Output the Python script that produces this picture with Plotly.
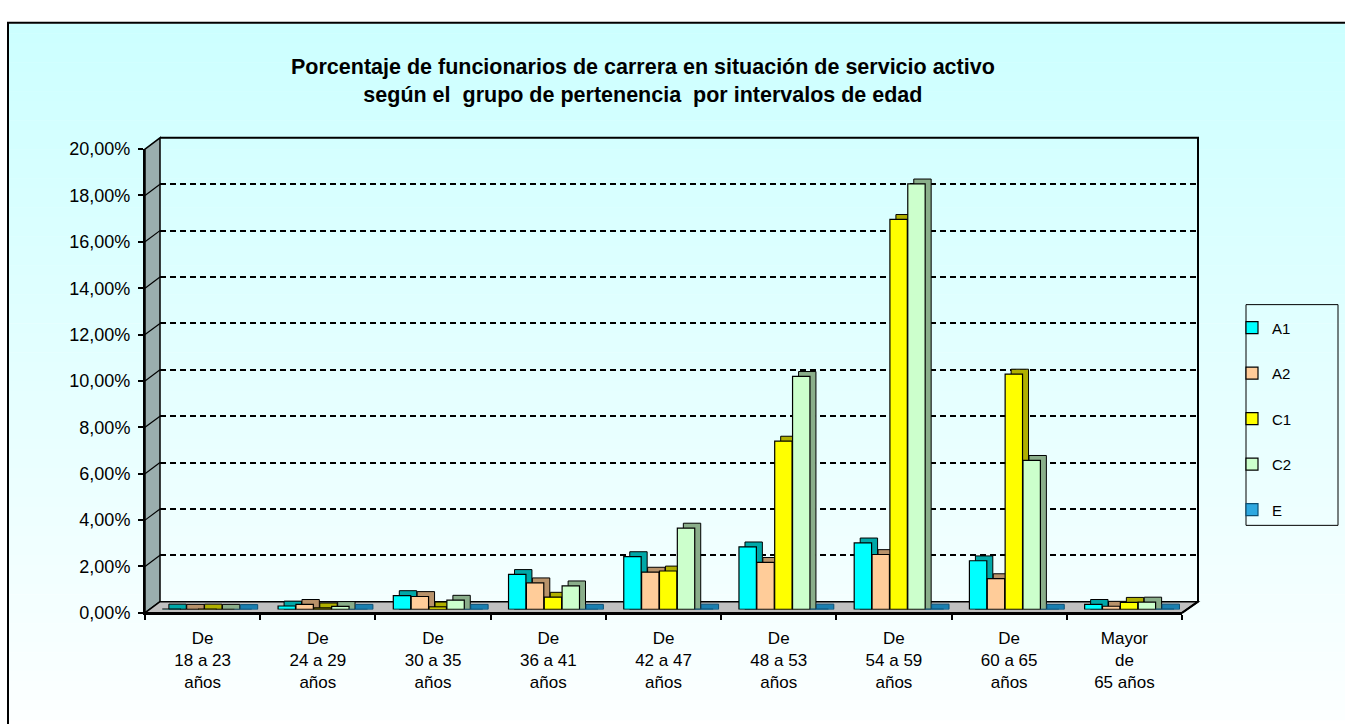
import plotly.graph_objects as go

# ---------------- data ----------------
categories = ["De<br>18 a 23<br>años", "De<br>24 a 29<br>años", "De<br>30 a 35<br>años",
              "De<br>36 a 41<br>años", "De<br>42 a 47<br>años", "De<br>48 a 53<br>años",
              "De<br>54 a 59<br>años", "De<br>60 a 65<br>años", "Mayor<br>de<br>65 años"]
series_names = ["A1", "A2", "C1", "C2", "E"]
A1 = [0.02, 0.15, 0.60, 1.51, 2.28, 2.70, 2.87, 2.10, 0.22]
A2 = [0.01, 0.22, 0.56, 1.15, 1.61, 2.03, 2.37, 1.33, 0.14]
C1 = [0.02, 0.07, 0.11, 0.53, 1.66, 7.26, 16.82, 10.15, 0.31]
C2 = [0.01, 0.13, 0.40, 1.02, 3.51, 10.05, 18.35, 6.43, 0.32]
E = [0.00, 0.01, 0.01, 0.01, 0.02, 0.02, 0.02, 0.01, 0.02]
tick_values = [0, 2, 4, 6, 8, 10, 12, 14, 16, 18, 20]
tick_labels = ["0,00%", "2,00%", "4,00%", "6,00%", "8,00%", "10,00%",
               "12,00%", "14,00%", "16,00%", "18,00%", "20,00%"]
title_text = ("<b>Porcentaje de funcionarios de carrera en situación de servicio activo<br>"
              "según el  grupo de pertenencia  por intervalos de edad</b>")

# ---------------- styling ----------------
W, H = 1345, 724
FONT = "Arial, Liberation Sans, sans-serif"
front_colors = ["#00FFFF", "#FFCC99", "#FFFF00", "#CCFFCC", "#2EA8E0"]
side_colors = ["#00A8A8", "#B8926A", "#B0B000", "#8AAE8A", "#1A7FB0"]
line_colors = ["black", "black", "black", "black", "#0C4F73"]

PPU = 23.85          # pixels per percentage unit
FRONT0, BACK0, BAR0 = 620.0, 608.5, 616.5


def px(x):
    return x / W


def py(y):
    return 1 - y / H


fig = go.Figure()

# back wall subplot (only dashed gridlines)
fig.add_trace(go.Scatter(x=[], y=[], xaxis="x", yaxis="y", showlegend=False, hoverinfo="skip"))

# bars: depth faces first, then front faces
bar_w = 0.151
pitch = 0.155
start = -0.345
depth_x = 6 / 115.2
depth_y = 5 / PPU
all_vals = [A1, A2, C1, C2, E]
for k, (name, vals) in enumerate(zip(series_names, all_vals)):
    fig.add_trace(go.Bar(
        x=categories, y=[v + depth_y for v in vals], xaxis="x2", yaxis="y2",
        offset=start + pitch * k + depth_x, width=bar_w,
        marker=dict(color=side_colors[k], line=dict(color=line_colors[k], width=1)),
        showlegend=False, hoverinfo="skip"))
for k, (name, vals) in enumerate(zip(series_names, all_vals)):
    fig.add_trace(go.Bar(
        x=categories, y=vals, xaxis="x2", yaxis="y2", name=name,
        offset=start + pitch * k, width=bar_w, legendgroup=name,
        marker=dict(color=front_colors[k], line=dict(color=line_colors[k], width=1.2))))

# front axes (labels/ticks)
fig.add_trace(go.Scatter(x=categories, y=[0] * len(categories), xaxis="x3", yaxis="y3",
                         mode="markers", marker=dict(opacity=0), showlegend=False,
                         hoverinfo="skip"))

shapes = []
# gradient background
n = 72
top, bot = 14, 730
for i in range(n):
    y0 = top + (bot - top) * i / n
    y1 = top + (bot - top) * (i + 1) / n + 0.5
    t = (i + 0.5) / n
    r = int(round(204 + (252 - 204) * t))
    shapes.append(dict(type="rect", xref="paper", yref="paper", layer="below",
                       x0=px(9), x1=1.01, y0=py(y1), y1=py(y0),
                       fillcolor=f"rgb({r},255,255)", line=dict(width=0)))
# outer frame
shapes.append(dict(type="rect", xref="paper", yref="paper", layer="below",
                   x0=px(8), x1=1.02, y0=-0.02, y1=py(13),
                   line=dict(color="black", width=2), fillcolor="rgba(0,0,0,0)"))


def path(points):
    s = "M " + " L ".join(f"{px(x)},{py(y)}" for x, y in points)
    return s


BACKTOP = BACK0 - 20 * PPU
FRONTTOP = FRONT0 - 20 * PPU
# left wall
shapes.append(dict(type="path", xref="paper", yref="paper", layer="below",
                   path=path([(145, FRONT0), (145, FRONTTOP), (160, BACKTOP), (160, BACK0)]) + " Z",
                   fillcolor="#9AAEAE", line=dict(color="black", width=1.5)))
# floor
shapes.append(dict(type="path", xref="paper", yref="paper", layer="below",
                   path=path([(145, FRONT0), (1182, FRONT0), (1198, BACK0), (160, BACK0)]) + " Z",
                   fillcolor="#C0C0C0", line=dict(color="black", width=1.5)))
# back wall top & right edges
shapes.append(dict(type="path", xref="paper", yref="paper", layer="below",
                   path=path([(160, BACKTOP), (1198, BACKTOP), (1198, BACK0), (1182, FRONT0)]),
                   line=dict(color="black", width=2)))
# gridline continuation on left wall
for v in tick_values[1:-1]:
    yb = BACK0 - PPU * v
    yf = FRONT0 - PPU * v
    shapes.append(dict(type="line", xref="paper", yref="paper", layer="below",
                       x0=px(145), y0=py(yf), x1=px(160), y1=py(yb),
                       line=dict(color="black", width=1.2)))
# legend box
shapes.append(dict(type="rect", xref="paper", yref="paper", layer="above",
                   x0=px(1246), x1=px(1338), y0=py(530), y1=py(303),
                   line=dict(color="black", width=1), fillcolor="rgba(0,0,0,0)"))

fig.update_layout(
    width=W, height=H, autosize=False,
    margin=dict(l=0, r=0, t=0, b=0),
    paper_bgcolor="white", plot_bgcolor="rgba(0,0,0,0)",
    font=dict(family=FONT, color="black"),
    barmode="overlay",
    shapes=shapes,
    annotations=[dict(text=title_text, xref="paper", yref="paper", x=px(643), y=py(73),
                      xanchor="center", yanchor="middle", showarrow=False,
                      font=dict(family=FONT, size=21.5, color="black"))],
    showlegend=True,
    legend=dict(x=px(1232), y=py(310), xanchor="left", yanchor="top",
                bgcolor="rgba(0,0,0,0)", borderwidth=0, tracegroupgap=23,
                font=dict(family=FONT, size=15, color="black")),
    xaxis=dict(domain=[px(160), px(1198)], range=[0, 1], visible=False, anchor="y"),
    yaxis=dict(domain=[py(BACK0), py(BACKTOP)], range=[0, 20], anchor="x",
               tickvals=tick_values[1:-1], showticklabels=False, ticks="",
               showgrid=True, gridcolor="black", gridwidth=2, griddash="6px,4px",
               zeroline=False, showline=False),
    xaxis2=dict(domain=[px(145), px(1182)], type="category", categoryorder="array",
                categoryarray=categories, range=[-0.5, 8.5], visible=False, anchor="y2"),
    yaxis2=dict(domain=[py(BAR0), py(BAR0 - 20 * PPU)], range=[0, 20], visible=False,
                anchor="x2"),
    xaxis3=dict(domain=[px(145), px(1182)], type="category", categoryorder="array",
                categoryarray=categories, range=[-0.5, 8.5], anchor="y3",
                showline=True, linecolor="black", linewidth=2,
                ticks="outside", tickson="boundaries", ticklen=5, tickwidth=1.5,
                tickcolor="black", showgrid=False, zeroline=False, ticklabelstandoff=9,
                tickfont=dict(family=FONT, size=17, color="black")),
    yaxis3=dict(domain=[py(FRONT0), py(FRONTTOP)], range=[0, 20], anchor="x3",
                tickvals=tick_values, ticktext=tick_labels,
                showline=True, linecolor="black", linewidth=2,
                ticks="outside", ticklen=5, tickwidth=1.5, tickcolor="black",
                showgrid=False, zeroline=False, ticklabelstandoff=4,
                tickfont=dict(family=FONT, size=18, color="black")),
)

fig.write_html("out.html", config={"displayModeBar": False},
               post_script="document.body.style.margin='0';document.body.style.overflow='hidden';")
